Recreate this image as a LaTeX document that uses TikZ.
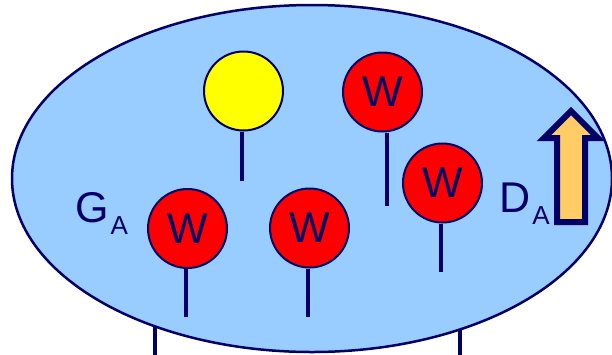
\documentclass[tikz,border=0pt]{standalone}
\usepackage{fontspec}
\setmainfont{Liberation Sans}
\usepackage{tikz}
\usetikzlibrary{shapes.geometric}

\definecolor{navy}{RGB}{0,0,102}
\definecolor{cellblue}{RGB}{153,204,255}
\definecolor{warnred}{RGB}{255,0,0}
\definecolor{idleyellow}{RGB}{255,255,0}
\definecolor{flowamber}{RGB}{255,204,102}
\newcommand{\bigtxt}{\fontsize{43}{43}\selectfont}
\newcommand{\subtxt}{\fontsize{26}{26}\selectfont}

\begin{document}
\begin{tikzpicture}[
  x=1pt, y=-1pt,
  cell/.style={ellipse, draw=navy, line width=2.5pt, fill=cellblue,
               minimum width=600pt, minimum height=347pt, inner sep=0pt},
  balloon/.style={circle, draw=navy, line width=2pt, minimum size=79pt,
                  inner sep=0pt, fill=warnred, text=navy, font=\bigtxt},
  stick/.style={draw=navy, line width=3.2pt},
  lbl/.style={text=navy, font=\bigtxt, inner sep=0pt, anchor=base west},
  flow/.style={draw=navy, line width=6pt, fill=flowamber, miter limit=10}
]
  \useasboundingbox (0,0) rectangle (612,354);

  %% -- legs under the cell -------------------------------------------
  \coordinate (legltop) at (155,300);
  \coordinate (leglbot) at (155,356);
  \coordinate (legrtop) at (460,300);
  \coordinate (legrbot) at (460,356);
  \draw[stick] (legltop) -- (leglbot);
  \draw[stick] (legrtop) -- (legrbot);

  %% -- the cell --------------------------------------------------------
  \node[cell] (cell) at (312,178.5) {};

  %% -- balloons --------------------------------------------------------
  \node[balloon, fill=idleyellow] (idle) at (243.5,91) {};
  \node[balloon] (wtop)   at (382.5,92)    {W};
  \node[balloon] (wright) at (442.5,183)   {W};
  \node[balloon] (wleft)  at (187.5,228.5) {W};
  \node[balloon] (wmid)   at (309.5,228)   {W};

  %% -- sticks ----------------------------------------------------------
  \coordinate (idleend)   at (242,181);
  \coordinate (wtopend)   at (387,206);
  \coordinate (wrightend) at (441,272);
  \coordinate (wleftend)  at (186,317);
  \coordinate (wmidend)   at (308,317);
  \draw[stick] (idle.south -| idleend)     -- (idleend);
  \draw[stick] (wtop.south -| wtopend)     -- (wtopend);
  \draw[stick] (wright.south -| wrightend) -- (wrightend);
  \draw[stick] (wleft.south -| wleftend)   -- (wleftend);
  \draw[stick] (wmid.south -| wmidend)     -- (wmidend);

  %% -- labels ----------------------------------------------------------
  \node[lbl] (ga) at (75,222)  {G\kern2pt\raisebox{-12pt}{\subtxt A}};
  \node[lbl] (da) at (499,212) {D\kern2pt\raisebox{-12pt}{\subtxt A}};

  %% -- flow arrow ------------------------------------------------------
  \draw[flow] (557,222) -- (557,138) -- (544,138) -- (571,111)
              -- (598,138) -- (585,138) -- (585,222) -- cycle;
\end{tikzpicture}
\end{document}
